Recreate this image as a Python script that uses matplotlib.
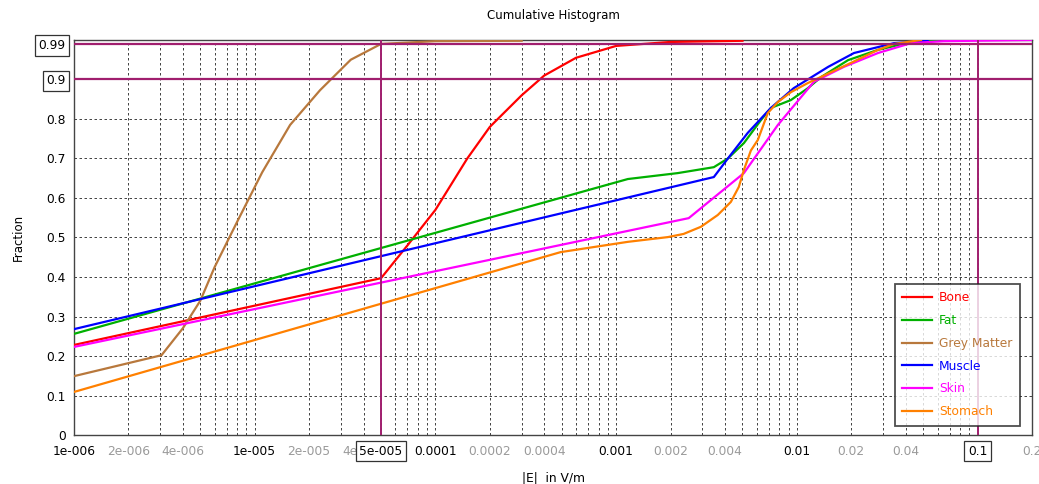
import numpy as np
import matplotlib.pyplot as plt
from matplotlib.ticker import FixedLocator, LogLocator, NullFormatter

# cumulative histogram values
bone_x = [1e-6, 5e-5, 7e-5, 1e-4, 1.5e-4, 2e-4, 3e-4, 4e-4, 6e-4, 1e-3, 2e-3, 5e-3]
bone_y = [0.228, 0.397, 0.48, 0.57, 0.70, 0.78, 0.86, 0.91, 0.955, 0.985, 0.995, 0.998]

fat_x = [1e-6, 1.16e-3, 2.19e-3, 3.47e-3, 4.15e-3, 5.09e-3, 6.32e-3, 7.18e-3, 9.27e-3,
         1.15e-2, 1.36e-2, 1.92e-2, 2.81e-2, 4.28e-2, 6e-2]
fat_y = [0.256, 0.648, 0.663, 0.678, 0.70, 0.739, 0.797, 0.828, 0.848,
         0.878, 0.906, 0.949, 0.975, 0.995, 0.999]

grey_x = [1e-6, 3.05e-6, 4e-6, 5e-6, 6e-6, 8e-6, 1.1e-5, 1.57e-5, 2.3e-5, 3.4e-5, 5e-5, 1e-4, 3e-4]
grey_y = [0.149, 0.202, 0.27, 0.34, 0.425, 0.54, 0.665, 0.785, 0.873, 0.95, 0.99, 0.997, 0.998]

muscle_x = [1e-6, 3.47e-3, 4.15e-3, 5.35e-3, 7.18e-3, 9.6e-3, 1.49e-2, 2.07e-2, 3.45e-2, 5.3e-2]
muscle_y = [0.268, 0.653, 0.70, 0.765, 0.828, 0.878, 0.932, 0.967, 0.992, 0.998]

skin_x = [1e-6, 2.52e-3, 5.09e-3, 7.85e-3, 1.24e-2, 1.82e-2, 2.81e-2, 4.28e-2, 6.5e-2, 0.2]
skin_y = [0.223, 0.549, 0.663, 0.785, 0.894, 0.932, 0.967, 0.992, 0.997, 1.0]

stomach_x = [1e-6, 4.93e-4, 1.16e-3, 1.93e-3, 2.36e-3, 2.94e-3, 3.65e-3, 4.31e-3, 4.77e-3,
             5.09e-3, 5.56e-3, 6.08e-3, 6.9e-3, 7.85e-3, 9.27e-3, 1.15e-2, 1.99e-2,
             2.81e-2, 3.45e-2, 4.86e-2]
stomach_y = [0.109, 0.463, 0.489, 0.501, 0.509, 0.527, 0.557, 0.59, 0.628,
             0.671, 0.72, 0.747, 0.815, 0.843, 0.868, 0.891, 0.942,
             0.975, 0.99, 1.0]

series = [('Bone', bone_x, bone_y, '#ff0000'),
          ('Fat', fat_x, fat_y, '#00b000'),
          ('Grey Matter', grey_x, grey_y, '#b8783c'),
          ('Muscle', muscle_x, muscle_y, '#0000ff'),
          ('Skin', skin_x, skin_y, '#ff00ff'),
          ('Stomach', stomach_x, stomach_y, '#ff8000')]

# tick labels
xtick_vals = [1e-6, 2e-6, 4e-6, 1e-5, 2e-5, 4e-5, 5e-5, 1e-4, 2e-4, 4e-4,
              1e-3, 2e-3, 4e-3, 1e-2, 2e-2, 4e-2, 0.1, 0.2]
xtick_text = ['1e-006', '2e-006', '4e-006', '1e-005', '2e-005', '4e-005', '5e-005',
              '0.0001', '0.0002', '0.0004', '0.001', '0.002', '0.004',
              '0.01', '0.02', '0.04', '0.1', '0.2']
grey_labels = ['2e-006', '4e-006', '2e-005', '4e-005', '0.0002', '0.0004',
               '0.002', '0.004', '0.02', '0.04', '0.2']
ytick_vals = [0, 0.1, 0.2, 0.3, 0.4, 0.5, 0.6, 0.7, 0.8, 0.9, 0.99]
ytick_text = ['0', '0.1', '0.2', '0.3', '0.4', '0.5', '0.6', '0.7', '0.8', '0.9', '0.99']

# marker lines
mark_x = [5e-5, 0.1]
mark_y = [0.9, 0.99]
mark_color = '#a01e6e'

fig = plt.figure(figsize=(10.39, 4.84), dpi=100)
ax = fig.add_axes([0.0712, 0.1012, 0.9221, 0.8162])

for name, xs, ys, col in series:
    ax.plot(xs, ys, color=col, lw=1.6, label=name, zorder=3)

for v in mark_x:
    ax.axvline(v, color=mark_color, lw=1.4, zorder=4)
for v in mark_y:
    ax.axhline(v, color=mark_color, lw=1.6, zorder=4)

ax.set_xscale('log')
ax.set_xlim(1e-6, 0.2)
ax.set_ylim(0, 1.0)

ax.xaxis.set_major_locator(FixedLocator(xtick_vals))
ax.set_xticklabels(xtick_text)
ax.xaxis.set_minor_locator(LogLocator(base=10, subs=np.arange(2, 10)))
ax.xaxis.set_minor_formatter(NullFormatter())
ax.set_yticks(ytick_vals)
ax.set_yticklabels(ytick_text)

ax.tick_params(axis='both', which='both', length=0, labelsize=8.8)
ax.tick_params(axis='x', pad=7)
ax.tick_params(axis='y', pad=6)

grid_kw = dict(color='#222222', linestyle=(0, (3, 3)), linewidth=0.6)
ax.grid(True, which='both', axis='x', **grid_kw)
ax.grid(True, which='major', axis='y', **grid_kw)

box = dict(boxstyle='square,pad=0.3', facecolor='white', edgecolor='#333333', linewidth=0.9)
for lab, txt in zip(ax.get_xticklabels(), xtick_text):
    if txt in grey_labels:
        lab.set_color('#9a9a9a')
    if txt in ('5e-005', '0.1'):
        lab.set_bbox(box)
for lab, txt in zip(ax.get_yticklabels(), ytick_text):
    if txt in ('0.9', '0.99'):
        lab.set_bbox(box)

for sp in ax.spines.values():
    sp.set_color('#444444')
    sp.set_linewidth(1.0)

ax.set_title('Cumulative Histogram', fontsize=8.5, pad=15)
ax.set_xlabel('|E|  in V/m', fontsize=8.8, labelpad=10)
ax.set_ylabel('Fraction', fontsize=8.5, labelpad=10)

leg = ax.legend(loc='lower left', bbox_to_anchor=(0.857, 0.024), fontsize=8.8,
                frameon=True, fancybox=False, handlelength=2.4, labelspacing=0.8,
                borderpad=0.6, handletextpad=0.6, borderaxespad=0)
leg.get_frame().set_edgecolor('#222222')
leg.get_frame().set_linewidth(1.3)
leg.set_zorder(5)
for t, (_, _, _, col) in zip(leg.get_texts(), series):
    t.set_color(col)

plt.savefig('out.png', dpi=100)
